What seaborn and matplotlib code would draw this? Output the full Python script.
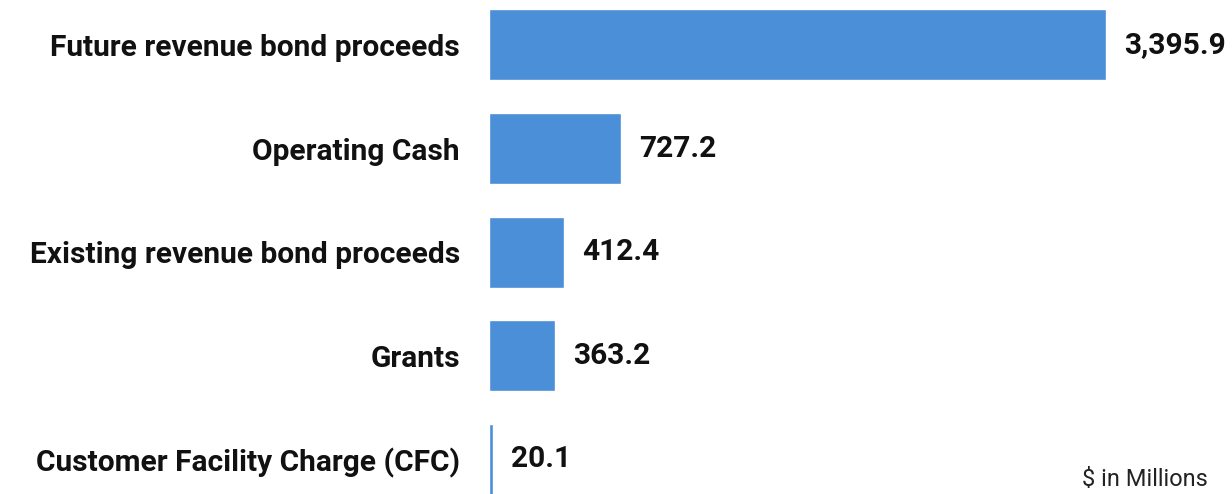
import matplotlib
matplotlib.use("Agg")
import matplotlib.pyplot as plt
import seaborn as sns
import pandas as pd

# funding sources, $ in millions
sources = ["Future revenue bond proceeds", "Operating Cash",
           "Existing revenue bond proceeds", "Grants",
           "Customer Facility Charge (CFC)"]
amounts = [3395.9, 727.2, 412.4, 363.2, 20.1]

df = pd.DataFrame({"source": sources, "amount": amounts})

sns.set_style("white")
plt.rcParams['font.family'] = ['Roboto', 'DejaVu Sans']

fig = plt.figure(figsize=(12.32, 4.94), dpi=100)
ax = fig.add_axes([489 / 1232, 0, 1 - 489 / 1232, 1])

sns.barplot(data=df, x="amount", y="source", orient="h",
            color="#4A8FD8", width=0.685, saturation=1, ax=ax)

ax.set_xlim(0, 743 / 0.1817)
ax.set_ylim(4.334, -0.434)
ax.set_xlabel("")
ax.set_ylabel("")
ax.set_xticks([])
sns.despine(ax=ax, left=True, bottom=True)
ax.tick_params(axis="y", length=0, pad=21)
for lbl in ax.get_yticklabels():
    lbl.set_fontsize(21.5)
    lbl.set_fontweight("bold")
    lbl.set_color("#111111")

ax.bar_label(ax.containers[0], labels=[f"{v:,.1f}" for v in amounts],
             padding=13, fontsize=21.5, fontweight="bold", color="#111111")

fig.text(1208 / 1232, 1 - 479 / 494, "$ in Millions", ha="right", va="center",
         fontsize=17, color="#222222")

fig.savefig("out.png", dpi=100)
